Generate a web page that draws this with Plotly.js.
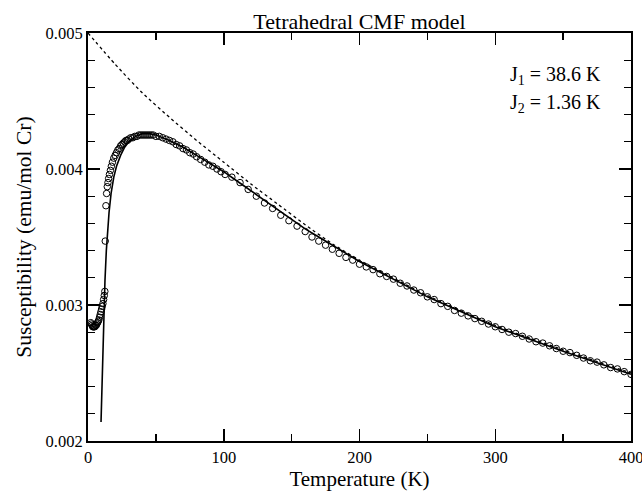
<!DOCTYPE html>
<html>
<head>
<meta charset="utf-8">
<script src="https://cdn.plot.ly/plotly-3.0.1.min.js"></script>
<style>html,body{margin:0;padding:0;background:#fff;}#chart{width:642px;height:496px;}</style>
</head>
<body>
<div id="chart"></div>
<script>
// Measured susceptibility (open circles)
var dataT = [2.0,2.5,3.0,3.5,4.0,4.5,5.0,5.5,6.0,6.5,7.0,7.5,8.0,8.5,9.0,9.5,10.0,10.5,11.0,11.5,12.0,12.4,
  12.7,13.2,13.7,14.2,14.7,15.2,15.8,16.5,17.2,18.0,19.0,20.0,21.0,22.0,23.0,24.0,25.0,26.0,27.0,28.0,29.0,30.0,
  31.5,33.0,34.5,36.0,37.5,39.0,40.5,42.0,43.5,45.0,46.5,48.0,50.0,52.5,55.0,57.5,60.0,62.5,65.0,67.5,70.0,72.5,
  75.0,77.5,80.0,83,86,89,92,95,98,101,106,112,118,124,130,136,142,148,154,160,165,170,175,180,185,190,195,200,
  205,210,215,220,225,230,235,240,245,250,255,260,265,270,275,280,285,290,295,300,305,310,315,320,325,330,335,
  340,345,350,355,360,365,370,375,380,385,390,395,400];
var dataChi = [0.00287,0.00286,0.00285,0.00284,0.00284,0.00284,0.00284,0.00285,0.00285,0.00286,0.00287,0.00288,
  0.00289,0.00291,0.00293,0.00295,0.00297,0.00299,0.00301,0.00304,0.00307,0.00310,
  0.00347,0.00373,0.00382,0.00387,0.00390,0.00393,0.00396,0.00399,0.00402,0.00405,0.00408,0.00410,0.00412,0.00414,
  0.00415,0.00417,0.00418,0.00419,0.00420,0.00421,0.00421,0.00422,
  0.00423,0.00423,0.00424,0.00424,0.00425,0.00425,0.00425,0.00425,0.00425,0.00425,0.00425,0.00425,0.00424,0.00424,
  0.00423,0.00422,0.00421,0.00420,0.00418,0.00417,0.00415,0.00414,
  0.00412,0.00411,0.00409,0.00407,0.00405,0.00403,0.00402,0.00400,0.00398,0.00396,0.00394,0.00390,0.00385,0.00380,
  0.00375,0.00371,0.00366,0.00362,0.00358,0.00354,0.00350,0.00347,0.00344,0.00341,0.00338,0.00335,0.00333,0.00330,
  0.00328,0.00326,0.00323,0.00321,0.00319,0.00316,0.00314,0.00311,0.00309,0.00306,0.00304,0.00301,0.00299,0.00296,
  0.00294,0.00292,0.00290,0.00288,0.00286,0.00284,0.00282,0.00280,0.00279,0.00277,0.00275,0.00273,0.00272,
  0.00270,0.00268,0.00266,0.00265,0.00263,0.00261,0.00259,0.00258,0.00256,0.00254,0.00253,0.00251,0.00249];

// CMF model fit (solid line)
var fitT = [9.6,10.5,11.5,12.5,13.5,14.5,15.5,17,19,21,24,27,30,35,40,45,50,60,70,80,90,100,110,120,130,140,150,160,170,180,190,200,250,300,350,400];
var fitChi = [0.00214,0.00248,0.00284,0.00318,0.00340,0.00355,0.00368,0.00382,0.00394,0.00402,0.00410,0.00416,0.00420,
  0.00424,0.00426,0.00426,0.00425,0.00421,0.00416,0.00410,0.00404,0.00398,0.00391,0.00384,0.00377,0.00370,0.00363,
  0.00356,0.00350,0.00344,0.00338,0.00332,0.00306,0.00284,0.00266,0.00249];

// High-temperature curve (dashed line)
var dashT = [0,20,40,60,80,100,120,140,160,180,200,250,300,350,400];
var dashChi = [0.00500,0.00477,0.00456,0.00438,0.00421,0.00405,0.00389,0.00374,0.00359,0.00345,0.00333,0.00307,0.00285,0.00267,0.00250];

var xTicks = [0,100,200,300,400];
var yTicks = [0.002,0.003,0.004,0.005];
var xTickText = ['0','100','200','300','400'];
var yTickText = ['0.002','0.003','0.004','0.005'];

var font = "'Liberation Serif', 'Times New Roman', serif";

var traces = [
  {x: dashT, y: dashChi, mode: 'lines', line: {color: '#000', width: 1.3, dash: '3px,3px', shape: 'spline', smoothing: 0.6}, hoverinfo: 'skip'},
  {x: dataT, y: dataChi, mode: 'markers', marker: {symbol: 'circle-open', size: 6.5, color: '#000', line: {width: 1, color: '#000'}}},
  {x: fitT, y: fitChi, mode: 'lines', line: {color: '#000', width: 1.6}}
];

var axisCommon = {
  showgrid: false, zeroline: false, showline: true, linecolor: '#000', linewidth: 2,
  mirror: 'allticks', ticks: 'inside', ticklen: 12, tickwidth: 1.5, tickcolor: '#000',
  ticklabeloverflow: 'allow',
  tickfont: {family: font, size: 16.5, color: '#000'}
};

var layout = {
  width: 642, height: 496,
  margin: {l: 88, r: 11, t: 33, b: 55},
  paper_bgcolor: '#fff', plot_bgcolor: '#fff',
  showlegend: false,
  font: {family: font, color: '#000'},
  title: {text: 'Tetrahedral CMF model', font: {family: font, size: 22, color: '#000'}, x: 0.56, xanchor: 'center', y: 0.958, yanchor: 'middle'},
  xaxis: Object.assign({}, axisCommon, {
    range: [0, 400], tickvals: xTicks, ticktext: xTickText,
    minor: {dtick: 50, tick0: 0, ticks: 'inside', ticklen: 7, tickwidth: 1.3, tickcolor: '#000'},
    title: {text: 'Temperature (K)', font: {family: font, size: 21, color: '#000'}, standoff: 6}
  }),
  yaxis: Object.assign({}, axisCommon, {
    range: [0.002, 0.005], tickvals: yTicks, ticktext: yTickText,
    minor: {dtick: 0.0002, tick0: 0.002, ticks: 'inside', ticklen: 7, tickwidth: 1.3, tickcolor: '#000'},
    title: {text: 'Susceptibility (emu/mol Cr)', font: {family: font, size: 21.5, color: '#000'}, standoff: 8}
  }),
  annotations: [
    {xref: 'paper', yref: 'paper', x: 0.948, y: 0.897, xanchor: 'right', yanchor: 'middle', showarrow: false,
     text: 'J<sub>1</sub> = 38.6 K', font: {family: font, size: 20, color: '#000'}},
    {xref: 'paper', yref: 'paper', x: 0.948, y: 0.828, xanchor: 'right', yanchor: 'middle', showarrow: false,
     text: 'J<sub>2</sub> = 1.36 K', font: {family: font, size: 20, color: '#000'}}
  ]
};

Plotly.newPlot('chart', traces, layout, {displayModeBar: false, staticPlot: true});
</script>
</body>
</html>
